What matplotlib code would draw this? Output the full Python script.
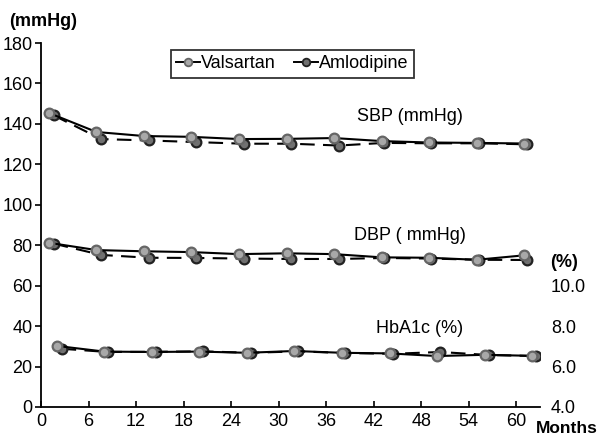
import matplotlib; matplotlib.use("Agg"); import matplotlib.pyplot as plt

plt.rcParams['font.family'] = ['Liberation Sans', 'DejaVu Sans']

# months at which each series is plotted (small offsets as in the original figure)
m_val = [1, 7, 13, 19, 25, 31, 37, 43, 49, 55, 61]
m_aml = [1.6, 7.6, 13.6, 19.6, 25.6, 31.6, 37.6, 43.3, 49.3, 55.3, 61.4]
m_hb_val = [2, 8, 14, 20, 26, 32, 38, 44, 50, 56, 62]
m_hb_aml = [2.6, 8.4, 14.5, 20.5, 26.5, 32.5, 38.4, 44.4, 50.4, 56.5, 62.5]

sbp_val = [145.4, 136.0, 134.0, 133.6, 132.5, 132.6, 133.0, 131.5, 130.8, 130.6, 130.3]
sbp_aml = [144.2, 132.5, 131.8, 131.0, 130.2, 130.2, 129.3, 130.6, 130.4, 130.4, 129.9]
dbp_val = [81.2, 77.6, 77.0, 76.6, 75.6, 76.0, 75.6, 74.0, 73.8, 72.8, 75.0]
dbp_aml = [80.8, 75.2, 73.8, 73.7, 73.4, 73.2, 73.2, 73.7, 73.4, 72.8, 72.7]
hba_val = [7.02, 6.74, 6.72, 6.74, 6.68, 6.77, 6.68, 6.65, 6.52, 6.58, 6.53]
hba_aml = [6.88, 6.72, 6.73, 6.75, 6.68, 6.75, 6.67, 6.63, 6.72, 6.57, 6.52]

xticks = [0, 6, 12, 18, 24, 30, 36, 42, 48, 54, 60]
yticks = [0, 20, 40, 60, 80, 100, 120, 140, 160, 180]
rticks = [4.0, 6.0, 8.0, 10.0]

FS = 13
val_kw = dict(color="black", lw=1.5, ls="-", marker="o", ms=7, mfc="#a8a8a8", mec="#666666", mew=1.6)
aml_kw = dict(color="black", lw=1.5, ls=(0, (7, 4)), marker="o", ms=7, mfc="#707070", mec="#222222", mew=1.6)

fig = plt.figure(figsize=(5.97, 4.38), dpi=100)
ax = fig.add_axes([0.0687, 0.0708, 0.8358, 0.831])
ax.plot(m_aml, sbp_aml, **aml_kw)
ax.plot(m_val, sbp_val, **val_kw)
ax.plot(m_aml, dbp_aml, **aml_kw)
ax.plot(m_val, dbp_val, **val_kw)
ax.set_xlim(0, 63)
ax.set_ylim(0, 180)
ax.set_xticks(xticks)
ax.set_yticks(yticks)
for s in ["top", "right"]:
    ax.spines[s].set_visible(False)
for s in ["left", "bottom"]:
    ax.spines[s].set_linewidth(1.3)
ax.tick_params(axis="x", direction="in", length=4, width=1.2, labelsize=FS, pad=4)
ax.tick_params(axis="y", direction="out", length=4, width=1.2, labelsize=FS, pad=2)

# HbA1c on its own scale (right labels, no spine)
ax2 = ax.twinx()
ax2.plot(m_hb_aml, hba_aml, **aml_kw)
ax2.plot(m_hb_val, hba_val, **val_kw)
ax2.set_ylim(4, 22)
ax2.set_yticks(rticks)
ax2.set_yticklabels([f"{t:.1f}" for t in rticks])
for s in ax2.spines.values():
    s.set_visible(False)
ax2.tick_params(axis="y", length=0, labelsize=FS, pad=8)

# legend
lh = [plt.Line2D([], [], color="black", lw=1.4, marker="o", ms=5.5, mfc="#a8a8a8", mec="#666666", mew=1.3),
      plt.Line2D([], [], color="black", lw=1.4, marker="o", ms=5.5, mfc="#707070", mec="#222222", mew=1.3)]
leg = fig.legend(lh, ["Valsartan", "Amlodipine"], loc="center", bbox_to_anchor=(0.49, 0.854),
                 ncol=2, fontsize=FS, frameon=True, fancybox=False, handlelength=1.3,
                 handletextpad=0.1, columnspacing=1.0, borderpad=0.3)
leg.get_frame().set_edgecolor("black")
leg.get_frame().set_linewidth(1.3)

fig.text(0.015, 0.95, "(mmHg)", fontsize=FS, fontweight="bold", va="center")
fig.text(0.687, 0.733, "SBP (mmHg)", fontsize=FS, ha="center", va="center")
fig.text(0.687, 0.463, "DBP ( mmHg)", fontsize=FS, ha="center", va="center")
fig.text(0.702, 0.251, "HbA1c (%)", fontsize=FS, ha="center", va="center")
fig.text(0.945, 0.4, "(%)", fontsize=FS, fontweight="bold", ha="center", va="center")
fig.text(0.897, 0.022, "Months", fontsize=12.5, fontweight="bold", ha="left", va="center")

fig.savefig("out.png", dpi=100)
